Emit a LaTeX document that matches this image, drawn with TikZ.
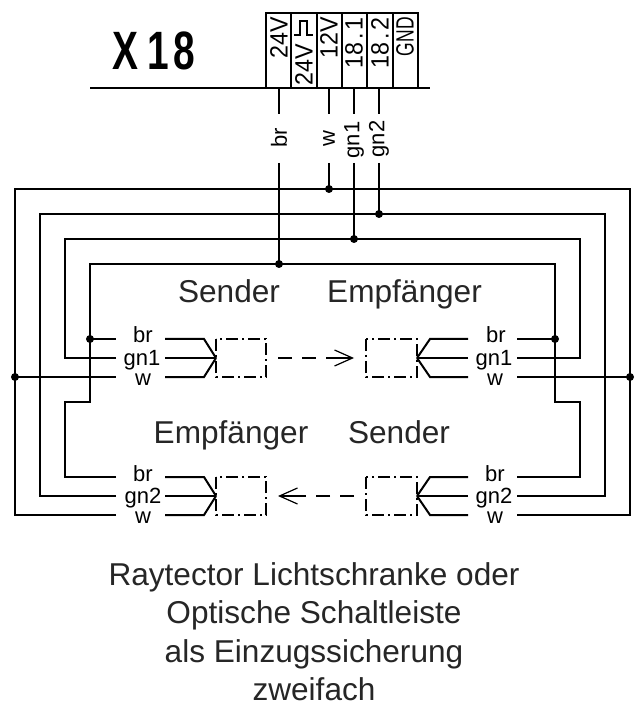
\documentclass[tikz,border=0pt]{standalone}
\usepackage{fontspec}
\setmainfont{Liberation Sans}
\usetikzlibrary{arrows.meta}
\usetikzlibrary{positioning}
\tikzset{
	wire/.style={line width=1pt},
	thin wire/.style={line width=.75pt},
	box line/.style={line width=.9pt, dash pattern=on 6pt off 2pt on 1pt off 2pt},
	flow/.style={line width=.6pt, dash pattern=on 7pt off 5pt on 7pt off 5pt on 20pt off 0pt, -{Straight Barb[length=9pt,width=8pt]}},
	junction/.style={circle, fill=black, inner sep=0pt, minimum size=4pt},
	pin/.style={rotate=90, anchor=east, inner sep=0pt, xscale=.93, font=\fontsize{12.5}{12.5}\selectfont},
	lead/.style={rotate=90, inner sep=0pt, font=\fontsize{11}{11}\selectfont},
	core/.style={anchor=base, inner sep=0pt, font=\fontsize{11}{11}\selectfont},
	role/.style={anchor=base, inner sep=0pt, text=black!85, font=\fontsize{15.8}{15.8}\selectfont},
	caption/.style={anchor=base, inner sep=0pt, text=black!85, font=\fontsize{15.8}{15.8}\selectfont}
}
\begin{document}
\begin{tikzpicture}[x=.5pt, y=-.5pt]
	\useasboundingbox (0,0) rectangle (634,704);
	% connector strip
	\node[anchor=base, inner sep=0pt, xscale=.72, font=\fontsize{27}{27}\selectfont\bfseries] (xtitle) at (153.5,70) {X\hspace{6.5pt}1\hspace{3pt}8};
	\coordinate (stripl) at (90,88);
	\coordinate (stripr) at (430,88);
	\draw[wire] (stripl) -- (stripr);
	\draw[wire] (266,13) rectangle (417.5,88);
	\foreach \x in {291,316.5,342,367,392.5} {
		\draw[wire] (\x,13) -- (\x,88);
	}
	\node[pin] (p24) at (279,17) {24V};
	\node[pin] (p24p) at (304,44) {24V};
	\draw[thin wire] (294,35) -- (300,35) -- (300,21) -- (307,21) -- (307,35) -- (313,35);
	\node[pin] (p12) at (329,17) {12V};
	\node[pin] (p181) at (354,17) {18\hspace{1.5pt}.\hspace{1.5pt}1};
	\node[pin] (p182) at (380,17) {18\hspace{1.5pt}.\hspace{1.5pt}2};
	\node[pin, xscale=.75] (pgnd) at (405,17) {GND};
	% leads from the strip
	\foreach \name/\x/\y/\txt in {lbr/279/138/br, lw/329/139/w, lgna/354/140/gn1, lgnb/379/139/gn2} {
		\node[lead] (\name) at (\x,\y) {\txt};
		\coordinate (\name t) at (\x,88);
		\coordinate (\name u) at (\x,114);
		\coordinate (\name d) at (\x,163);
	}
	\coordinate (jbr) at (279,264);
	\coordinate (jw) at (329,189);
	\coordinate (jgna) at (354,239);
	\coordinate (jgnb) at (379,214);
	\foreach \name/\j in {lbr/jbr, lw/jw, lgna/jgna, lgnb/jgnb} {
		\draw[wire] (\name t) -- (\name u);
		\draw[wire] (\name d) -- (\j);
		\node[junction] at (\j) {};
	}
	% upper row, left
	\node[core] (ubrl) at (143,343) {br};
	\node[core] (ugnl) at (142,365) {gn1};
	\node[core] (uwl) at (143,386) {w};
	% upper row, right
	\node[core] (ubrr) at (496,343) {br};
	\node[core] (ugnr) at (494,365) {gn1};
	\node[core] (uwr) at (495,386) {w};
	% lower row, left
	\node[core] (dbrl) at (143,481) {br};
	\node[core] (dgnl) at (143,503) {gn2};
	\node[core] (dwl) at (143,523) {w};
	% lower row, right
	\node[core] (dbrr) at (495,481) {br};
	\node[core] (dgnr) at (494,503) {gn2};
	\node[core] (dwr) at (495,523) {w};
	% the four rings
	\coordinate (jubrl) at (90,339);
	\coordinate (jubrr) at (555,339);
	\coordinate (juwl) at (15,377);
	\coordinate (juwr) at (630,377);
	\draw[wire] (116,515) -- (15,515) -- (15,189) -- (630,189) -- (630,515) -- (517,515);
	\draw[wire] (116,496) -- (40,496) -- (40,214) -- (605,214) -- (605,496) -- (517,496);
	\draw[wire] (116,358) -- (65,358) -- (65,239) -- (580,239) -- (580,358) -- (517,358);
	\draw[wire] (116,477) -- (65,477) -- (65,402) -- (90,402) -- (90,264) -- (555,264) -- (555,402) -- (580,402) -- (580,477) -- (517,477);
	\draw[wire] (juwl) -- (116,377);
	\draw[wire] (517,377) -- (juwr);
	\draw[wire] (jubrl) -- (116,339);
	\draw[wire] (517,339) -- (jubrr);
	\foreach \j in {jubrl,jubrr,juwl,juwr} {
		\node[junction] at (\j) {};
	}
	% fans and boxes
	\foreach \y in {358,496} {
		\draw[wire] (165,\y-19) -- (204,\y-19) -- (216,\y);
		\draw[wire] (165,\y) -- (216,\y);
		\draw[wire] (165,\y+19) -- (204,\y+19) -- (216,\y);
		\draw[wire] (468,\y-19) -- (430,\y-19) -- (417,\y);
		\draw[wire] (468,\y) -- (417,\y);
		\draw[wire] (468,\y+19) -- (430,\y+19) -- (417,\y);
		\draw[box line] (216,\y-19) rectangle (266,\y+19);
		\draw[box line] (366,\y-19) rectangle (417,\y+19);
	}
	\coordinate (fla) at (278,358);
	\coordinate (flb) at (354,358);
	\coordinate (flc) at (354,496);
	\coordinate (fld) at (278,496);
	\draw[flow] (fla) -- (flb);
	\draw[flow] (flc) -- (fld);
	% texts
	\node[role] (tsenda) at (229,303) {Sender};
	\node[role] (temfa) at (404.5,303) {Empfänger};
	\node[role] (temfb) at (231,443) {Empfänger};
	\node[role] (tsendb) at (399,443) {Sender};
	\node[caption] (tcapa) at (314,585) {Raytector Lichtschranke oder};
	\node[caption] (tcapb) at (314,623) {Optische Schaltleiste};
	\node[caption] (tcapc) at (314,662) {als Einzugssicherung};
	\node[caption] (tcapd) at (314,700) {zweifach};
\end{tikzpicture}
\end{document}
